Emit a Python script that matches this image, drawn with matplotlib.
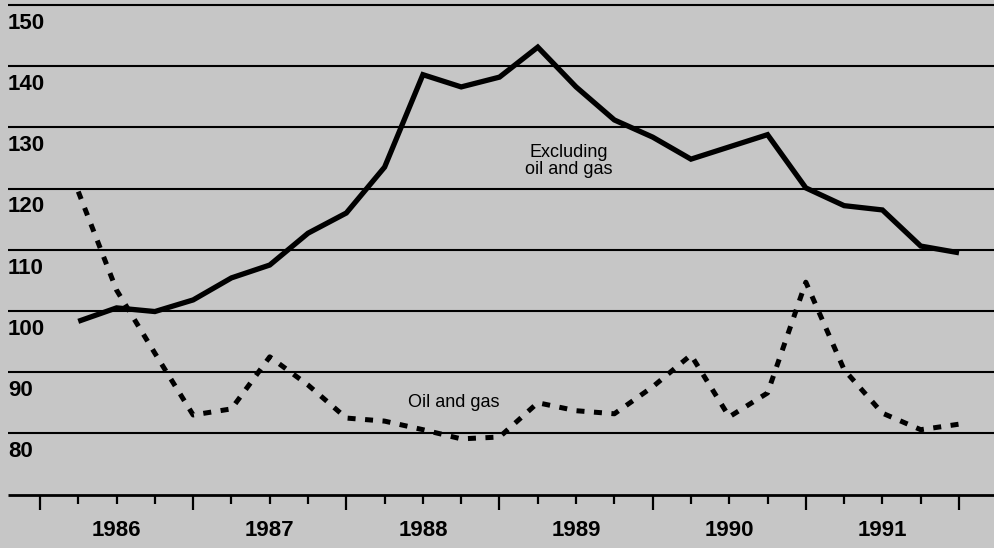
import matplotlib
matplotlib.use("Agg")
import matplotlib.pyplot as plt
import numpy as np

# quarterly index values, 1986 Q1 .. 1991 Q4 (plotted at quarter ends)
quarters = np.arange(1986.25, 1992.01, 0.25)
excluding_oil_gas = [98.3, 100.5, 99.9, 101.8, 105.4, 107.5, 112.7, 116.0,
                     123.5, 138.6, 136.6, 138.2, 143.1, 136.6, 131.2, 128.4,
                     124.8, 126.8, 128.8, 120.1, 117.2, 116.5, 110.6, 109.5]
oil_and_gas = [119.5, 103.4, 93.1, 83.0, 84.0, 92.5, 87.9, 82.5,
               82.0, 80.6, 79.1, 79.4, 85.0, 83.7, 83.2, 87.6,
               92.8, 82.7, 86.6, 104.7, 90.4, 83.3, 80.6, 81.5]

y_levels = [80, 90, 100, 110, 120, 130, 140, 150]
y_base = 70
years = [1986, 1987, 1988, 1989, 1990, 1991]
tick_pos = np.arange(1986.0, 1992.01, 0.25)

plt.rcParams['font.family'] = ['Liberation Sans', 'DejaVu Sans']

fig = plt.figure(figsize=(9.95, 5.48), dpi=100)
bg = '#c6c6c6'
fig.patch.set_facecolor(bg)
ax = fig.add_axes([0, 0, 1, 1])
ax.set_facecolor(bg)
ax.set_xlim(1985.739, 1992.235)
ax.set_ylim(61.27, 150.8)
ax.axis('off')

x_left = 1985.79

# horizontal rules with labels underneath
ax.hlines(y_levels, x_left, 1992.235, color='black', linewidth=1.5, zorder=1)
for v in y_levels:
    ax.text(x_left, v - 1.3, str(v), ha='left', va='top',
            fontsize=16, fontweight='bold', color='black')

# bottom axis with quarter ticks
ax.hlines(y_base, x_left, 1992.235, color='black', linewidth=2.0, zorder=1)
for t in tick_pos:
    major = abs(t - round(t)) < 1e-6
    ax.vlines(t, y_base, y_base - (2.45 if major else 1.6),
              color='black', linewidth=1.6)
for yr in years:
    ax.text(yr + 0.5, y_base - 4.1, str(yr), ha='center', va='top',
            fontsize=16, fontweight='bold', color='black')

ax.plot(quarters, excluding_oil_gas, color='black', linewidth=3.8,
        solid_joinstyle='miter', solid_capstyle='butt', zorder=3)
ax.plot(quarters, oil_and_gas, color='black', linewidth=3.6,
        linestyle=(0, (1.6, 1.9)), dash_capstyle='butt', zorder=3)

ax.text(1989.45, 124.5, 'Excluding\noil and gas', ha='center', va='center',
        fontsize=13, linespacing=1.0, color='black')
ax.text(1988.7, 85.1, 'Oil and gas', ha='center', va='center',
        fontsize=13, color='black')

fig.savefig('out.png', dpi=100, facecolor=bg)
